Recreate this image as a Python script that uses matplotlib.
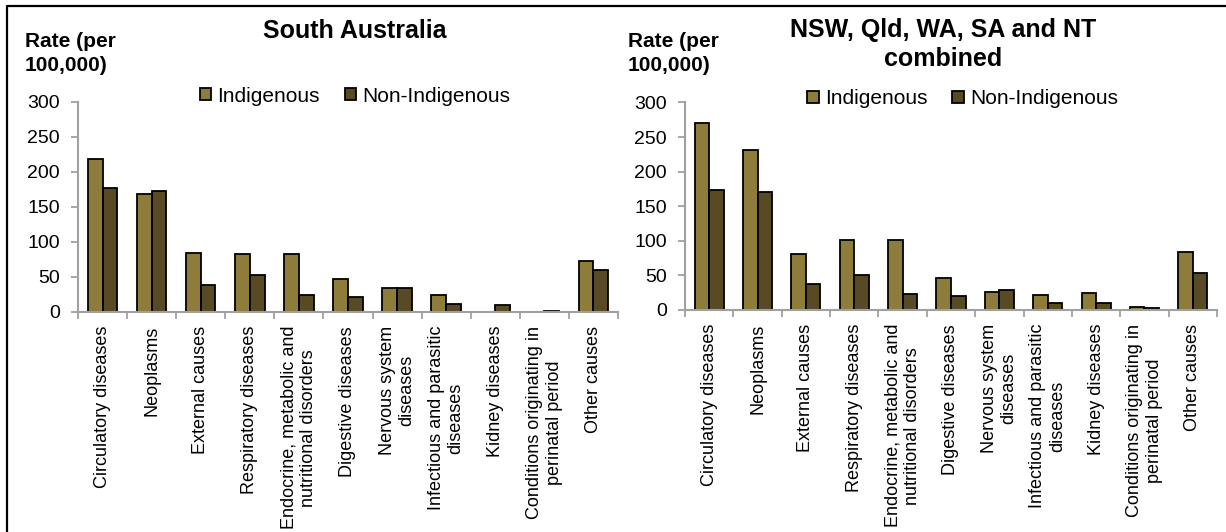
"""
Age-standardised death rates by cause, Indigenous vs non-Indigenous
"""

import numpy as np
import matplotlib as mpl
mpl.use('Agg')
import matplotlib.pyplot as plt
from matplotlib.lines import Line2D

# data
categories = ["Circulatory diseases", "Neoplasms", "External causes",
              "Respiratory diseases", "Endocrine, metabolic and\nnutritional disorders",
              "Digestive diseases", "Nervous system\ndiseases",
              "Infectious and parasitic\ndiseases", "Kidney diseases",
              "Conditions originating in\nperinatal period", "Other causes"]
series_names = ["Indigenous", "Non-Indigenous"]
yticks = [0, 50, 100, 150, 200, 250, 300]

sa_indigenous = [218, 168, 84, 83, 82.5, 46.5, 34, 24, 0, 0, 73]
sa_non_indigenous = [177, 172.5, 39, 53, 24.5, 21, 34.5, 11, 10.5, 2, 60]

comb_indigenous = [271, 232, 81, 101, 101, 46.5, 26, 21, 24, 5, 84]
comb_non_indigenous = [173, 171, 38, 50, 22.5, 20.5, 29, 10.5, 9.5, 2.5, 54]

sa_title = ["South Australia"]
comb_title = ["NSW, Qld, WA, SA and NT", "combined"]
ylabel_lines = ["Rate (per", "100,000)"]

# style
color_ind = "#8E7C3B"
color_non = "#574A24"
axis_grey = "#A0A0A0"
W, H = 1226, 532

plt.rcParams['font.family'] = ['Liberation Sans', 'DejaVu Sans']

fig = plt.figure(figsize=(W / 100, H / 100), dpi=100)


def px_box(x0, x1, y_top, y_bottom):
    return [x0 / W, 1 - y_bottom / H, (x1 - x0) / W, (y_bottom - y_top) / H]


def fig_text(x, y, s, **kw):
    fig.text(x / W, 1 - y / H, s, **kw)


def draw_panel(box, ind, non, title_lines, title_x, title_y0, label_x, legend_pos):
    ax = fig.add_axes(box)
    x = np.arange(len(categories))
    width = 0.3
    bars_i = ax.bar(x - width / 2, ind, width, color=color_ind, edgecolor='black',
                    linewidth=1.3, label=series_names[0], zorder=3)
    bars_n = ax.bar(x + width / 2, non, width, color=color_non, edgecolor='black',
                    linewidth=1.3, label=series_names[1], zorder=3)
    for b in list(bars_i) + list(bars_n):
        if b.get_height() == 0:
            b.set_visible(False)

    ax.set_xlim(-0.5, len(categories) - 0.5)
    ax.set_ylim(0, 300)
    ax.set_yticks(yticks)
    ax.set_xticks(x)
    ax.set_xticklabels(categories, rotation=90, fontsize=13, multialignment='center')
    ax.set_xticks(np.arange(-0.5, len(categories)), minor=True)
    ax.tick_params(axis='x', which='major', length=0, pad=10)
    ax.tick_params(axis='x', which='minor', length=5, width=1.3, color=axis_grey, direction='out')
    ax.tick_params(axis='y', length=5, width=1.3, color=axis_grey, direction='out',
                   labelsize=14, pad=8)
    for side in ['top', 'right']:
        ax.spines[side].set_visible(False)
    for side in ['left', 'bottom']:
        ax.spines[side].set_color(axis_grey)
        ax.spines[side].set_linewidth(1.5)
        ax.spines[side].set_zorder(4)

    ax.legend(ncol=2, loc='center', bbox_to_anchor=legend_pos, frameon=False,
              fontsize=15, handlelength=0.55, handleheight=0.55,
              handletextpad=0.3, columnspacing=1.2, borderpad=0)

    for i, line in enumerate(title_lines):
        fig_text(title_x, title_y0 + i * 29, line, fontsize=18, fontweight='bold',
                 ha='center', va='baseline')
    for i, line in enumerate(ylabel_lines):
        fig_text(label_x, 47 + i * 23.5, line, fontsize=15, fontweight='bold',
                 ha='left', va='baseline')
    return ax


draw_panel(px_box(78, 618, 101.5, 312), sa_indigenous, sa_non_indigenous,
           sa_title, 355, 38, 25, (0.513, 1.026))
draw_panel(px_box(685, 1217, 102.5, 310), comb_indigenous, comb_non_indigenous,
           comb_title, 943, 37, 628, (0.522, 1.018))

# outer frame (top and left edges visible)
frame = Line2D([7 / W, 7 / W, 1.0], [0.0, 1 - 6 / H, 1 - 6 / H], transform=fig.transFigure,
               color='black', linewidth=1.6)
fig.add_artist(frame)

plt.savefig("out.png", dpi=100)
